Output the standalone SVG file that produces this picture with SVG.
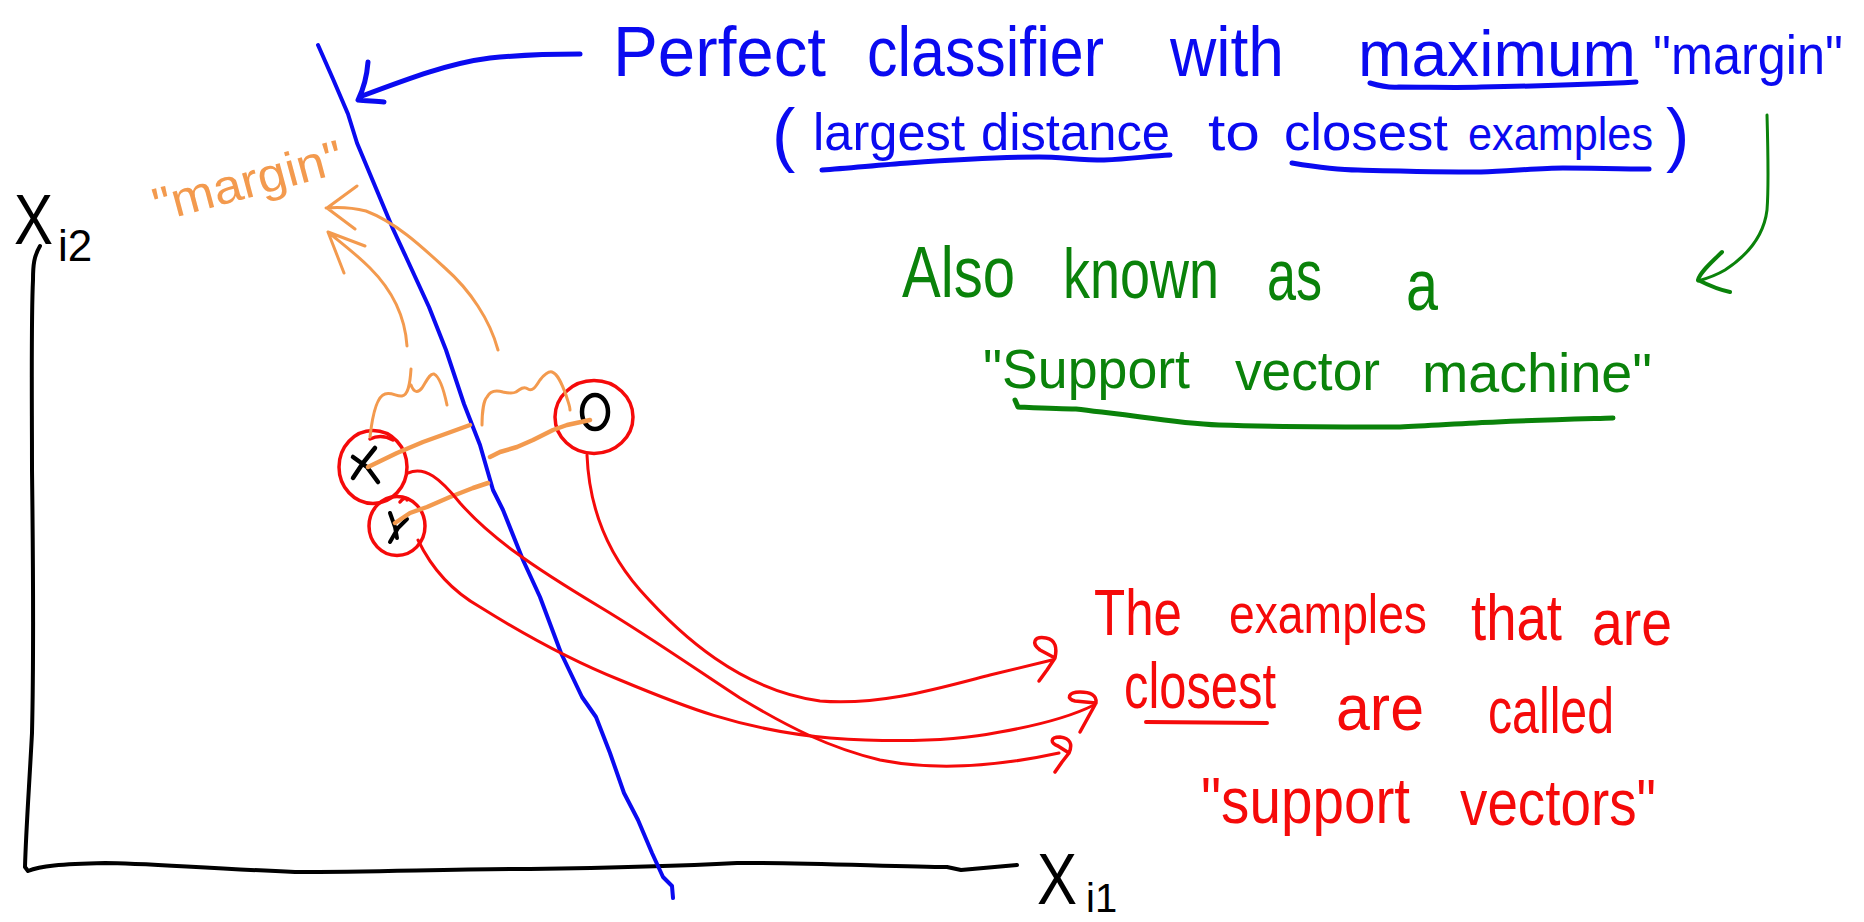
<svg xmlns="http://www.w3.org/2000/svg" width="1864" height="922" viewBox="0 0 1864 922">
<style>
.t{font-family:"Liberation Sans",Arial,sans-serif}
.blue{fill:#0a0af0}
.green{fill:#0a820a}
.red{fill:#f50a0a}
.orange{fill:#f39a4e}
.black{fill:#000}
.s{fill:none;stroke-linecap:round;stroke-linejoin:round}
.sb{stroke:#0a0af0}
.sr{stroke:#f50a0a}
.sg{stroke:#0a820a}
.so{stroke:#f39a4e}
.sk{stroke:#000}
</style>
<rect width="1864" height="922" fill="#fff"/>

<g id="axes">
<path class="s sk" stroke-width="4" d="M40,246 C34,256 33,265 33,280 C31,320 32,400 32,470 C33,550 34,650 32,733 C29,790 26,830 25,867 L28,871 C40,866 60,864 105,863 C140,863 200,868 295,872 C380,872 450,869 530,869 C600,868 680,866 737,863 C800,862 900,867 947,867 L961,870 L1017,865"/>
<text class="t black" x="14" y="244" font-size="70" textLength="39" lengthAdjust="spacingAndGlyphs">X</text>
<text class="t black" x="58" y="261" font-size="44">i2</text>
<text class="t black" x="1037" y="904" font-size="72" textLength="40" lengthAdjust="spacingAndGlyphs">X</text>
<text class="t black" x="1086" y="912" font-size="40">i1</text>
</g>

<g id="classifier-line">
<polyline class="s sb" stroke-width="4" points="318,45 333,79 348,114 357,143 375,186 393,229 406,257 429,307 446,350 464,404 480,445 493,490 503,510 523,560 540,597 561,653 582,697 596,717 610,753 624,793 638,820 652,853 663,877 672,886 673,898"/>
</g>

<g id="point-x1">
<ellipse class="s sr" stroke-width="3.5" cx="373" cy="467" rx="34" ry="36.5"/>
<path class="s sr" stroke-width="3.5" d="M370,439 C378,435 386,436 393,440"/>
<path class="s sk" stroke-width="4.5" d="M353,457 L367,467 L378,482 M375,448 L363,463 L353,478"/>
</g>

<g id="point-x2">
<ellipse class="s sr" stroke-width="3.5" cx="397" cy="526" rx="28" ry="29.5"/>
<path class="s sr" stroke-width="3.5" d="M400,502 C403,498 407,497 407,500"/>
<path class="s sk" stroke-width="4" d="M390,513 L395,527 L397,538 M407,519 L398,528 L390,542"/>
</g>

<g id="point-o">
<ellipse class="s sr" stroke-width="3.5" cx="594" cy="417" rx="39" ry="36.5"/>
<ellipse class="s sk" stroke-width="4.5" cx="595" cy="412" rx="13" ry="17"/>
</g>

<g id="margin-marks">
<path class="s so" stroke-width="4.5" d="M368,467 L397,453 L423,442 L448,433 L470,425"/>
<path class="s so" stroke-width="4.5" d="M490,457 L500,452 L517,447 L533,440 L553,430 L567,425 L590,420"/>
<path class="s so" stroke-width="4.5" d="M395,523 L410,513 L427,507 L450,497 L473,488 L488,483"/>
<path class="s so" stroke-width="3" d="M370,437 C373,410 378,396 385,394 C392,392 397,397 402,396 C408,395 410,385 411,369 M411,385 C414,393 418,393 422,388 C427,380 430,373 434,374 C438,376 443,386 447,405"/>
<path class="s so" stroke-width="3" d="M482,425 C482,412 484,400 487,397 C490,391 496,390 503,392 C508,393 512,394 516,392 C520,389 524,386 528,389 C533,392 536,386 540,380 C544,375 548,371 552,372 C558,374 562,384 566,395 C568,402 570,406 570,410"/>
<text class="t orange" x="158" y="222" font-size="48" textLength="195" lengthAdjust="spacingAndGlyphs" transform="rotate(-15 158 222)">"margin"</text>
</g>

<g id="connectors">
<path class="s so" stroke-width="3" d="M407,346 C405,315 392,290 370,268 C355,253 340,242 328,232 M344,273 L328,232 L365,246"/>
<path class="s so" stroke-width="3" d="M498,350 C490,320 470,290 445,268 C420,245 395,222 366,211 C350,207 338,207 326,208 M357,186 L327,208 L355,229"/>
<path class="s sb" stroke-width="5" d="M580,54 C550,54 520,55 490,58 C450,63 410,78 362,96 M368,62 C367,75 364,88 358,100 C366,101 376,101 384,102"/>
<path class="s sg" stroke-width="3" d="M1767,115 C1768,150 1769,185 1767,210 C1764,235 1748,255 1725,270 C1715,276 1705,279 1698,281"/>
<path class="s sg" stroke-width="4" d="M1722,252 C1712,262 1700,272 1698,280 C1708,285 1720,290 1730,292"/>
<path class="s sr" stroke-width="3" d="M587,455 C589,505 605,550 640,590 C680,635 740,690 820,701 C880,706 940,688 990,675 C1015,669 1035,664 1052,660"/>
<path class="s sr" stroke-width="3.5" d="M1039,681 L1047,670 L1055,658 C1057,648 1056,640 1046,638 C1034,636 1031,643 1040,650 L1055,658"/>
<path class="s sr" stroke-width="3" d="M408,473 C425,466 440,478 460,503 C490,537 530,565 600,607 C650,637 700,672 740,698 C790,728 830,748 880,760 C930,770 990,768 1059,753"/>
<path class="s sr" stroke-width="3.5" d="M1055,772 L1062,762 L1069,753 C1073,744 1070,738 1060,737 C1050,737 1050,743 1058,746 L1069,753"/>
<path class="s sr" stroke-width="3" d="M418,540 C430,565 450,590 480,607 C520,632 570,660 620,680 C680,705 740,730 830,738 C900,743 960,740 1000,732 C1040,725 1070,717 1094,705"/>
<path class="s sr" stroke-width="3.5" d="M1080,732 L1096,703 C1097,695 1090,692 1080,692 C1068,692 1066,699 1075,701 L1096,703"/>
</g>

<g id="title-label">
<text class="t blue" x="613" y="76" font-size="70" textLength="213" lengthAdjust="spacingAndGlyphs">Perfect</text>
<text class="t blue" x="867" y="76" font-size="70" textLength="237" lengthAdjust="spacingAndGlyphs">classifier</text>
<text class="t blue" x="1170" y="76" font-size="70" textLength="114" lengthAdjust="spacingAndGlyphs">with</text>
<text class="t blue" x="1358" y="76" font-size="64" textLength="278" lengthAdjust="spacingAndGlyphs">maximum</text>
<text class="t blue" x="1653" y="74" font-size="55" textLength="190" lengthAdjust="spacingAndGlyphs">"margin"</text>
<path class="s sb" stroke-width="5" d="M1370,83 C1380,86 1390,88 1399,87 C1430,87 1460,88 1481,87 C1540,86 1600,84 1636,82"/>
<text class="t blue" x="772" y="158" font-size="70">(</text>
<text class="t blue" x="813" y="150" font-size="52" textLength="152" lengthAdjust="spacingAndGlyphs">largest</text>
<text class="t blue" x="981" y="150" font-size="52" textLength="189" lengthAdjust="spacingAndGlyphs">distance</text>
<text class="t blue" x="1208" y="150" font-size="52" textLength="52" lengthAdjust="spacingAndGlyphs">to</text>
<text class="t blue" x="1284" y="150" font-size="52" textLength="164" lengthAdjust="spacingAndGlyphs">closest</text>
<text class="t blue" x="1468" y="150" font-size="46" textLength="185" lengthAdjust="spacingAndGlyphs">examples</text>
<text class="t blue" x="1666" y="158" font-size="70">)</text>
<path class="s sb" stroke-width="5" d="M822,170 C850,168 880,165 908,163 C950,160 1000,157 1039,157 C1060,157 1080,160 1104,160 C1130,159 1150,156 1170,155"/>
<path class="s sb" stroke-width="5" d="M1292,163 C1310,166 1335,170 1358,170 C1400,171 1440,172 1481,172 C1510,171 1540,168 1563,168 C1590,168 1620,169 1649,169"/>
</g>

<g id="svm-label">
<text class="t green" x="902" y="297" font-size="72" textLength="113" lengthAdjust="spacingAndGlyphs">Also</text>
<text class="t green" x="1063" y="298" font-size="70" textLength="156" lengthAdjust="spacingAndGlyphs">known</text>
<text class="t green" x="1267" y="300" font-size="72" textLength="55" lengthAdjust="spacingAndGlyphs">as</text>
<text class="t green" x="1406" y="310" font-size="72" textLength="32" lengthAdjust="spacingAndGlyphs">a</text>
<text class="t green" x="983" y="388" font-size="56" textLength="207" lengthAdjust="spacingAndGlyphs">"Support</text>
<text class="t green" x="1235" y="390" font-size="56" textLength="145" lengthAdjust="spacingAndGlyphs">vector</text>
<text class="t green" x="1422" y="392" font-size="56" textLength="230" lengthAdjust="spacingAndGlyphs">machine"</text>
<path class="s sg" stroke-width="5" d="M1015,400 L1018,407 C1040,408 1060,409 1076,409 C1100,412 1120,414 1141,417 C1170,421 1195,424 1219,425 C1280,427 1340,427 1400,427 C1430,426 1465,423 1497,422 C1540,420 1580,419 1613,418"/>
</g>

<g id="sv-label">
<text class="t red" x="1094" y="635" font-size="64" textLength="88" lengthAdjust="spacingAndGlyphs">The</text>
<text class="t red" x="1229" y="633" font-size="56" textLength="198" lengthAdjust="spacingAndGlyphs">examples</text>
<text class="t red" x="1471" y="640" font-size="64" textLength="91" lengthAdjust="spacingAndGlyphs">that</text>
<text class="t red" x="1592" y="645" font-size="64" textLength="80" lengthAdjust="spacingAndGlyphs">are</text>
<text class="t red" x="1124" y="708" font-size="64" textLength="152" lengthAdjust="spacingAndGlyphs">closest</text>
<path class="s sr" stroke-width="4" d="M1146,722 L1267,723"/>
<text class="t red" x="1336" y="730" font-size="64" textLength="88" lengthAdjust="spacingAndGlyphs">are</text>
<text class="t red" x="1488" y="733" font-size="64" textLength="126" lengthAdjust="spacingAndGlyphs">called</text>
<text class="t red" x="1201" y="823" font-size="64" textLength="209" lengthAdjust="spacingAndGlyphs">"support</text>
<text class="t red" x="1460" y="825" font-size="64" textLength="196" lengthAdjust="spacingAndGlyphs">vectors"</text>
</g>
</svg>
